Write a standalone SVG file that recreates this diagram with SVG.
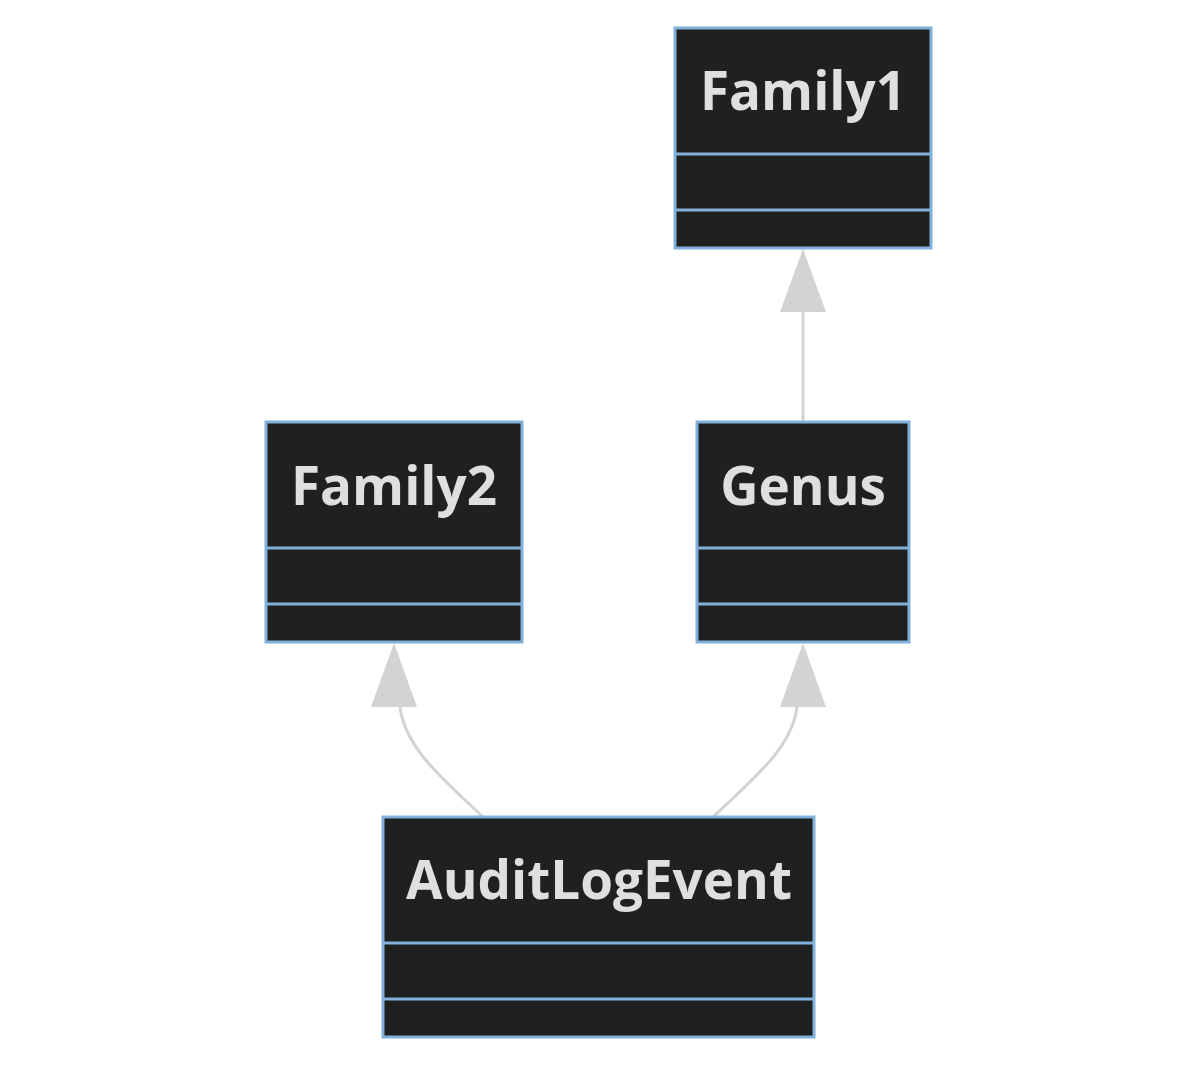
<svg xmlns="http://www.w3.org/2000/svg" width="1197" height="1065" viewBox="0 0 1197 1065">
<style>
.box{fill:#1f2020;stroke:#81b1db;stroke-width:3}
.div{stroke:#81b1db;stroke-width:3}
.t{font-family:"Open Sans","DejaVu Sans",sans-serif;font-weight:bold;font-size:53px;fill:#e0dfdf;text-anchor:middle}
.edge{fill:none;stroke:#d3d3d3;stroke-width:3}
.head{fill:#d3d3d3}
</style>
<rect width="1197" height="1065" fill="#ffffff"/>
<g id="connectors">
<path class="edge" d="M803,422 L803,312"/>
<path class="head" d="M780,312 L826,312 L803,249 Z"/>
<path class="edge" d="M483,817 C443,779 405,748 400,707"/>
<path class="head" d="M371,707 L417,707 L394,643 Z"/>
<path class="edge" d="M713,817 C753,779 792,748 797,707"/>
<path class="head" d="M780,707 L826,707 L803,643 Z"/>
</g>
<g id="Family1">
<rect class="box" x="675" y="28" width="256" height="220"/>
<line class="div" x1="675" y1="154" x2="931" y2="154"/>
<line class="div" x1="675" y1="210" x2="931" y2="210"/>
<text class="t" x="803" y="110">Family1</text>
</g>
<g id="Family2">
<rect class="box" x="266" y="422" width="256" height="220"/>
<line class="div" x1="266" y1="548" x2="522" y2="548"/>
<line class="div" x1="266" y1="604" x2="522" y2="604"/>
<text class="t" x="394" y="505">Family2</text>
</g>
<g id="Genus">
<rect class="box" x="697" y="422" width="212" height="220"/>
<line class="div" x1="697" y1="548" x2="909" y2="548"/>
<line class="div" x1="697" y1="604" x2="909" y2="604"/>
<text class="t" x="803" y="505">Genus</text>
</g>
<g id="AuditLogEvent">
<rect class="box" x="383" y="817" width="431" height="220"/>
<line class="div" x1="383" y1="943" x2="814" y2="943"/>
<line class="div" x1="383" y1="999" x2="814" y2="999"/>
<text class="t" x="599" y="899">AuditLogEvent</text>
</g>
</svg>
